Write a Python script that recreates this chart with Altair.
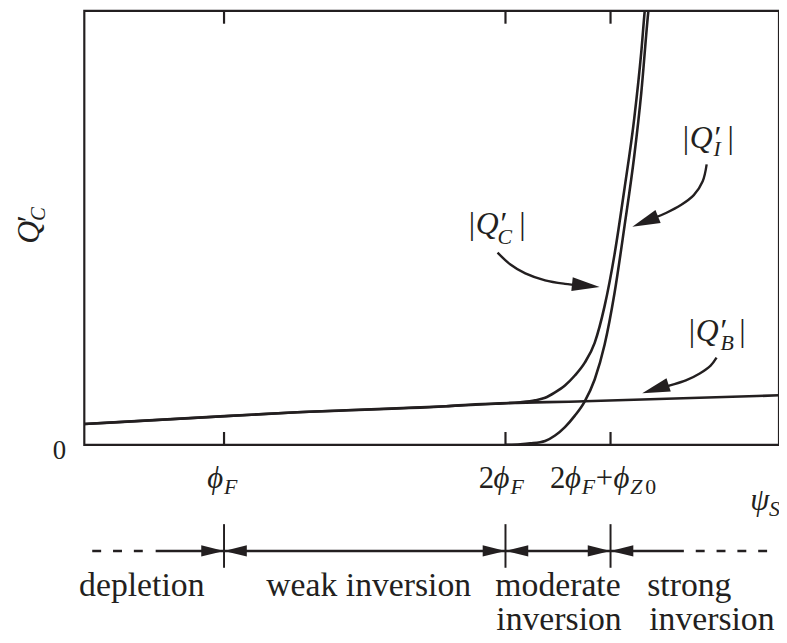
import altair as alt
import pandas as pd

INK = "#231f20"
FONT = "Liberation Serif, DejaVu Serif, serif"

# ---- axis ticks (x in psi units, frame spans 0..701; y frame spans 0..438)
tick_names = ["phi_F", "2phi_F", "2phi_F+phi_Z0"]
tick_pos = [141, 425, 531]

# ---- curves
qb_x = [0, 215, 365, 395, 505, 701]
qb_y = [21, 33, 39, 41, 44, 50]

qc_x = [0, 115, 215, 315, 365, 415, 440, 455, 465, 475, 485, 495, 505, 515, 525, 535, 545, 555, 562, 566, 568]
qc_y = [21, 27.5, 33, 37, 39, 41.5, 43, 45, 47.5, 53, 60, 70, 83, 103, 140, 192, 258, 330, 396, 443, 460]

qi_x = [425, 440, 450, 465, 475, 485, 495, 505, 515, 525, 535, 545, 555, 562, 569, 571]
qi_y = [0, 0.6, 1.5, 4, 9.5, 18, 29.5, 44, 66, 101, 153, 220, 292, 355, 436, 455]

# ---- curved pointer arrows
arrI_x = [628, 624, 615, 602, 587, 575]
arrI_y = [283, 266, 252, 242, 234, 229]
arrC_x = [417, 430, 445, 465, 485, 500]
arrC_y = [194, 182, 173, 166, 162.5, 161]
arrB_x = [638, 632, 621, 607, 591, 581]
arrB_y = [88, 80, 72, 65, 60, 57]

head_x = [553, 520, 563]
head_y = [220, 159.3, 52]
head_ang = [158, 6, 162]

# ---- region bar (below the plot)
bar_y = -107
bar_top, bar_bot = -80, -124
solid_seg = [72, 605]
dash_segs = [[8, 66], [617, 700]]

# ---- text pieces: text, x, y(baseline), size, style, align, angle
pieces = [
    ("0", -25, -14, 27, "normal", "center", 0),
    # y-axis title Q'_C (rotated)
    ("Q", -46, 203, 32, "italic", "left", 270),
    ("\u2032", -46, 225, 32, "normal", "left", 270),
    ("C", -40, 226, 21, "italic", "left", 270),
    # tick labels
    ("\u03d5", 124, -44, 31, "italic", "left", 0),
    ("F", 141, -50, 22, "italic", "left", 0),
    ("2", 398, -44, 31, "normal", "left", 0),
    ("\u03d5", 413, -44, 31, "italic", "left", 0),
    ("F", 430, -50, 22, "italic", "left", 0),
    ("2", 470, -44, 31, "normal", "left", 0),
    ("\u03d5", 485, -44, 31, "italic", "left", 0),
    ("F", 502, -50, 22, "italic", "left", 0),
    ("+", 516, -44, 31, "normal", "left", 0),
    ("\u03d5", 534, -44, 31, "italic", "left", 0),
    ("Z", 551, -50, 22, "italic", "left", 0),
    ("0", 566, -50, 22, "normal", "left", 0),
    ("\u03c8", 672, -66, 31, "italic", "left", 0),
    ("S", 691, -72, 22, "italic", "left", 0),
    # region names
    ("depletion", 58, -152, 34, "normal", "center", 0),
    ("weak inversion", 287, -152, 34, "normal", "center", 0),
    ("moderate", 478, -152, 34, "normal", "center", 0),
    ("inversion", 479, -187, 34, "normal", "center", 0),
    ("strong", 568, -152, 34, "normal", "left", 0),
    ("inversion", 570, -187, 34, "normal", "left", 0),
    # |Q'_C|
    ("|", 388, 213, 32, "normal", "left", 0),
    ("Q", 395, 213, 32, "italic", "left", 0),
    ("\u2032", 420, 213, 32, "normal", "left", 0),
    ("C", 417, 203, 22, "italic", "left", 0),
    ("|", 439, 213, 32, "normal", "left", 0),
    # |Q'_I|
    ("|", 604, 300, 32, "normal", "left", 0),
    ("Q", 611, 300, 32, "italic", "left", 0),
    ("\u2032", 636, 300, 32, "normal", "left", 0),
    ("I", 635, 292, 22, "italic", "left", 0),
    ("|", 649, 300, 32, "normal", "left", 0),
    # |Q'_B|
    ("|", 610, 105, 32, "normal", "left", 0),
    ("Q", 617, 105, 32, "italic", "left", 0),
    ("\u2032", 642, 105, 32, "normal", "left", 0),
    ("B", 642, 96, 22, "italic", "left", 0),
    ("|", 661, 105, 32, "normal", "left", 0),
]

XS = alt.Scale(domain=[0, 701], nice=False, zero=False)
YS = alt.Scale(domain=[0, 438], nice=False, zero=False)


def X(f="x"):
    return alt.X(f"{f}:Q", scale=XS, axis=None)


def Y(f="y"):
    return alt.Y(f"{f}:Q", scale=YS, axis=None)


curves = pd.concat([
    pd.DataFrame({"x": qb_x, "y": qb_y, "s": "B"}),
    pd.DataFrame({"x": qc_x, "y": qc_y, "s": "C"}),
    pd.DataFrame({"x": qi_x, "y": qi_y, "s": "I"}),
])
curve_layer = alt.Chart(curves).mark_line(
    color=INK, strokeWidth=2.6, interpolate="monotone", clip=True, strokeCap="butt"
).encode(x=X(), y=Y(), detail="s:N")

arrows = []
for name, ax, ay in [("I", arrI_x, arrI_y), ("C", arrC_x, arrC_y), ("B", arrB_x, arrB_y)]:
    arrows.append(pd.DataFrame({"x": ax, "y": ay, "s": name, "o": list(range(len(ax)))}))
arrow_layer = alt.Chart(pd.concat(arrows)).mark_line(
    color=INK, strokeWidth=2.4, interpolate="catmull-rom"
).encode(x=X(), y=Y(), detail="s:N", order="o:Q")

HEAD = "M0,0L-2,-0.5L-2,0.5Z"
heads = pd.DataFrame({"x": head_x, "y": head_y, "a": head_ang, "sz": [784, 784, 784]})
bx = []
for t in tick_pos:
    bx += [(t, 0), (t, 180)]
heads = pd.concat([heads, pd.DataFrame({
    "x": [b[0] for b in bx], "y": [bar_y] * len(bx), "a": [b[1] for b in bx], "sz": [529] * len(bx)
})])
head_layer = alt.Chart(heads).mark_point(
    shape=HEAD, filled=True, color=INK, opacity=1, strokeWidth=0
).encode(x=X(), y=Y(), angle=alt.Angle("a:Q", scale=None), size=alt.Size("sz:Q", scale=None))

# ticks on the frame (inward) and the region bars
tick_df = pd.DataFrame({
    "x": tick_pos * 2,
    "y": [0] * 3 + [438] * 3,
    "y2": [13] * 3 + [425] * 3,
})
tick_layer = alt.Chart(tick_df).mark_rule(color=INK, strokeWidth=2.2).encode(
    x=X(), y=Y(), y2="y2:Q")

bars_df = pd.DataFrame({"x": tick_pos, "y": [bar_top] * 3, "y2": [bar_bot] * 3})
bars_layer = alt.Chart(bars_df).mark_rule(color=INK, strokeWidth=2).encode(
    x=X(), y=Y(), y2="y2:Q")

solid_layer = alt.Chart(pd.DataFrame({"x": [solid_seg[0]], "x2": [solid_seg[1]], "y": [bar_y]})).mark_rule(
    color=INK, strokeWidth=2.6).encode(x=X(), x2="x2:Q", y=Y())
dash_layer = alt.Chart(pd.DataFrame({"x": [d[0] for d in dash_segs], "x2": [d[1] for d in dash_segs],
                                     "y": [bar_y] * 2})).mark_rule(
    color=INK, strokeWidth=2.6, strokeDash=[9, 12]).encode(x=X(), x2="x2:Q", y=Y())

tdf = pd.DataFrame(pieces, columns=["t", "x", "y", "size", "style", "align", "angle"])
text_layers = []
for (style, align), g in tdf.groupby(["style", "align"]):
    text_layers.append(
        alt.Chart(g).mark_text(
            font=FONT, fontStyle=style, align=align, baseline="alphabetic", color=INK
        ).encode(
            x=X(), y=Y(), text="t:N",
            size=alt.Size("size:Q", scale=None),
            angle=alt.Angle("angle:Q", scale=None),
        )
    )

chart = alt.layer(
    curve_layer, arrow_layer, head_layer, tick_layer, bars_layer, solid_layer, dash_layer, *text_layers
).properties(
    width=701, height=438,
    autosize=alt.AutoSizeParams(type="none"),
    padding={"left": 77, "top": 0, "right": 0, "bottom": 190},
    background="white",
).configure_view(stroke=INK, strokeWidth=2.2)

chart.save("out.html", embed_options={"renderer": "svg", "actions": False})
